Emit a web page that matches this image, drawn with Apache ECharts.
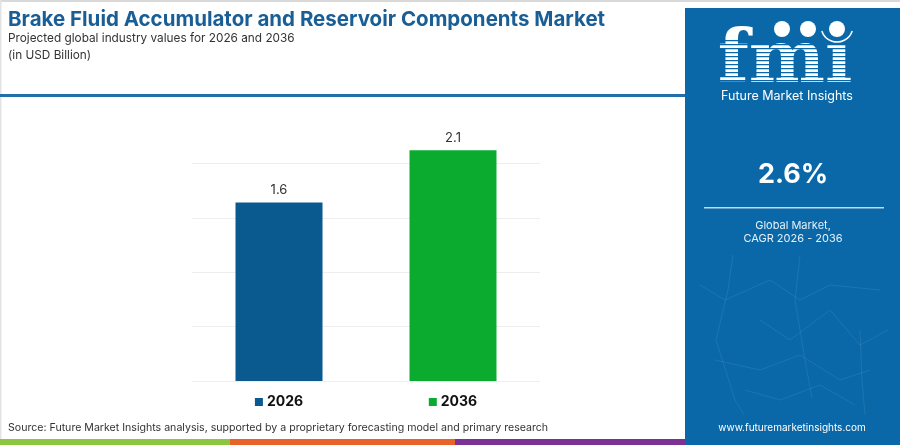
<!DOCTYPE html>
<html>
<head>
<meta charset="utf-8">
<script src="https://cdn.jsdelivr.net/npm/echarts@6/dist/echarts.min.js"></script>
<style>
html,body{margin:0;padding:0;background:#fff;}
#chart{width:900px;height:445px;}
</style>
</head>
<body>
<div id="chart"></div>
<script>
// ---- data ----
var categories = ['2026', '2036'];
var values = [1.64, 2.12];
var barColors = ['#0b5a8f', '#0aab2e'];
var titleText = 'Brake Fluid Accumulator and Reservoir Components Market';
var subtitleLines = ['Projected global industry values for 2026 and 2036', '(in USD Billion)'];
var cagrText = '2.6%';
var cagrLabel = ['Global Market,', 'CAGR 2026 - 2036'];
var sourceText = 'Source: Future Market Insights analysis, supported by a proprietary forecasting model and primary research';

var panelColor = '#0a68a8';
var font = 'Inter, "Open Sans", sans-serif';

var chart = echarts.init(document.getElementById('chart'));

// stripes over logo letters
var stripes = [];
for (var y = 40; y < 82; y += 4) {
  stripes.push({type:'rect', shape:{x:715, y:y, width:140, height:1.3}, style:{fill:panelColor}, z:12});
}

// faint network decoration
var net = [
  [[733,255],[728,290],[716,340],[735,400],[744,415]],
  [[700,285],[725,300],[770,280],[800,300],[830,285],[880,290]],
  [[760,320],[790,340],[830,310],[860,345],[888,330]],
  [[715,360],[760,370],[800,355],[840,380],[870,370]],
  [[745,390],[780,400],[820,385],[855,405]],
  [[800,255],[795,300],[805,360],[812,398]],
  [[860,330],[862,380],[865,415]]
];
var netGraphics = net.map(function(p){
  return {type:'polyline', shape:{points:p}, style:{stroke:'rgba(255,255,255,0.08)', lineWidth:1, fill:null}, z:11};
});

function txt(x, y, text, size, weight, color, align, valign, family) {
  return {type:'text', x:x, y:y, z:13, style:{
    text:text, fill:color, fontSize:size, fontWeight:weight, fontFamily:family || font,
    align:align, verticalAlign:valign, textAlign:align, textVerticalAlign:valign
  }};
}

var logo = txt(785, 63, 'fm\u0131', 72, 'bold', '#fff', 'center', 'middle', '"DejaVu Serif", serif');
logo.z = 11;

var graphics = [
  {type:'rect', shape:{x:0, y:0, width:900, height:2}, style:{fill:'#d9d9d9'}, z:1},
  {type:'rect', shape:{x:0, y:0, width:1.5, height:445}, style:{fill:'#e3e3e3'}, z:1},
  txt(8, 20, titleText, 20.5, 'bold', '#1a5e96', 'left', 'middle'),
  txt(8, 38, subtitleLines[0], 11.8, 'normal', '#333', 'left', 'middle'),
  txt(8, 55, subtitleLines[1], 11.8, 'normal', '#333', 'left', 'middle'),
  {type:'rect', shape:{x:0, y:94, width:685, height:3}, style:{fill:'#1f6fad'}, z:10},
  txt(8, 428, sourceText, 10.6, 'normal', '#333', 'left', 'middle'),
  {type:'rect', shape:{x:0, y:439, width:230, height:6}, style:{fill:'#8cc63f'}, z:10},
  {type:'rect', shape:{x:230, y:439, width:225, height:6}, style:{fill:'#e8622a'}, z:10},
  {type:'rect', shape:{x:455, y:439, width:230, height:6}, style:{fill:'#7b3294'}, z:10},
  // right panel
  {type:'rect', shape:{x:685, y:8, width:215, height:437}, style:{fill:panelColor}, z:10},
  logo
].concat(stripes).concat([
  {type:'circle', shape:{cx:782, cy:29, r:8}, style:{fill:'#fff'}, z:13},
  {type:'circle', shape:{cx:808, cy:29, r:8}, style:{fill:'#fff'}, z:13},
  {type:'circle', shape:{cx:837, cy:29, r:8}, style:{fill:'#fff'}, z:13},
  {type:'arc', shape:{cx:837, cy:26, r:16, startAngle:Math.PI*0.1, endAngle:Math.PI*0.9}, style:{stroke:'#fff', lineWidth:1.5, fill:null}, z:13},
  txt(787, 96, 'Future Market Insights', 12.5, 'normal', '#fff', 'center', 'middle'),
  txt(793, 175, cagrText, 27, 'bold', '#fff', 'center', 'middle'),
  {type:'rect', shape:{x:704, y:207, width:180, height:1.5}, style:{fill:'rgba(255,255,255,0.75)'}, z:13},
  txt(793, 226, cagrLabel[0], 11, 'normal', 'rgba(255,255,255,0.9)', 'center', 'middle'),
  txt(793, 239, cagrLabel[1], 11, 'normal', 'rgba(255,255,255,0.9)', 'center', 'middle'),
  txt(792, 428, 'www.futuremarketinsights.com', 10, 'normal', '#fff', 'center', 'middle')
]).concat(netGraphics);

var rich = {
  t: {fontFamily: font, fontWeight: 'bold', fontSize: 14, color: '#111', padding:[0,0,0,4]}
};
categories.forEach(function(c, i){
  rich['s' + i] = {width: 8, height: 8, backgroundColor: barColors[i]};
});

chart.setOption({
  animation: false,
  backgroundColor: '#fff',
  grid: {left: 192, right: 360, top: 109, bottom: 64},
  xAxis: {
    type: 'category',
    data: categories,
    axisLine: {show: false},
    axisTick: {show: false},
    axisLabel: {
      margin: 14,
      formatter: function(v, i){ return '{s' + i + '|}{t|' + v + '}'; },
      rich: rich
    }
  },
  yAxis: {
    type: 'value',
    min: 0, max: 2.5, interval: 0.5,
    axisLabel: {show: false},
    axisLine: {show: false},
    axisTick: {show: false},
    splitLine: {lineStyle: {color: ['#eeeeee','#eeeeee','#eeeeee','#eeeeee','#eeeeee','rgba(0,0,0,0)'], width: 1}}
  },
  series: [{
    type: 'bar',
    barWidth: 87,
    data: values.map(function(v, i){ return {value: v, itemStyle: {color: barColors[i]}}; }),
    label: {
      show: true, position: 'top', distance: 6,
      formatter: function(p){ return p.value.toFixed(1); },
      fontFamily: font, fontSize: 13, color: '#333'
    }
  }],
  graphic: graphics
});
</script>
</body>
</html>
